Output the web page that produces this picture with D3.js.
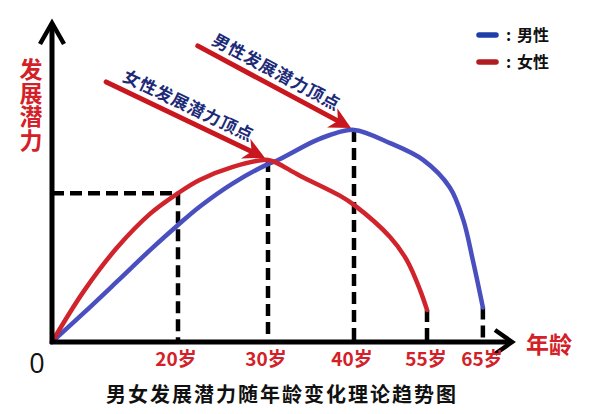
<!DOCTYPE html>
<html><head><meta charset="utf-8">
<script src="https://cdn.jsdelivr.net/npm/d3@7"></script>
<style>html,body{margin:0;padding:0;background:#fff;}svg{display:block;}</style>
</head><body>
<svg id="chart" width="600" height="414"></svg>
<script>
// ---- data ----
const tickAges = [20, 30, 40, 55, 65];
const tickLabels = ["20岁", "30岁", "40岁", "55岁", "65岁"];
const maleAges   = [0, 5, 10.3, 15.6, 20, 22.4, 26.1, 30, 31, 35.2, 37.2, 40, 47.3, 54, 58.9, 61.3, 63, 64.8];
const maleValues = [0, 9.6, 20.1, 30.7, 39, 45.1, 52.9, 59.3, 60.4, 66.7, 69, 70.7, 66.3, 60.7, 51.5, 40.7, 27.3, 11.5];
const femaleAges   = [0, 5, 10.3, 15.6, 20, 22.4, 26.1, 30, 31, 33.6, 38.4, 40, 47.3, 50.7, 53.4, 54.8];
const femaleValues = [0, 16.8, 31.4, 42.8, 49.6, 54, 58.4, 60.7, 59.7, 55.6, 48.7, 45.7, 35, 27.3, 17.3, 10.7];
const legendLabels = ["男性", "女性"];
const yAxisTitle = "发展潜力";
const xAxisTitle = "年龄";
const chartTitle = "男女发展潜力随年龄变化理论趋势图";
const annotations = [
  {text: "女性发展潜力顶点", startAge: 8.6, startValue: 86.7, series: "female", age: 30, t: 0.48},
  {text: "男性发展潜力顶点", startAge: 22.2, startValue: 98.7, series: "male", age: 40, t: 0.47}
];
const guides = [
  {age: 20, series: "female"}, {age: 30, series: "female"}, {age: 40, series: "male"},
  {age: 54.8, series: "female"}, {age: 64.8, series: "male"}
];

// ---- layout ----
const svg = d3.select("#chart");
const x0 = 52, y0 = 342;
const colors = {male: "#4a4fc0", female: "#d0232b"};
const legendColors = {male: "#1e3ea8", female: "#b01c1f"};
const font = "'Noto Sans CJK SC','Noto Sans',sans-serif";

const x = d3.scaleLinear().domain([0, 20, 30, 40, 55, 65])
  .range([x0, x0 + 126, x0 + 216, x0 + 302, x0 + 376, x0 + 432]);
const y = d3.scaleLinear().domain([0, 100]).range([y0, y0 - 300]);

const series = {
  male: maleAges.map((a, i) => [a, maleValues[i]]),
  female: femaleAges.map((a, i) => [a, femaleValues[i]])
};
function valueAt(name, age) {
  const s = series[name];
  let best = s[0];
  s.forEach(p => { if (Math.abs(p[0] - age) < Math.abs(best[0] - age)) best = p; });
  return best[1];
}

// dashed guides
const dashStyle = "12,6";
guides.forEach(g => {
  const v = valueAt(g.series, g.age);
  svg.append("line").attr("x1", x(g.age)).attr("x2", x(g.age))
    .attr("y1", y(v)).attr("y2", y(0))
    .attr("stroke", "#000").attr("stroke-width", 4.5).attr("stroke-dasharray", dashStyle);
});
{
  const v = valueAt("female", 20);
  svg.append("line").attr("x1", x(0)).attr("x2", x(20)).attr("y1", y(v)).attr("y2", y(v))
    .attr("stroke", "#000").attr("stroke-width", 4.5).attr("stroke-dasharray", dashStyle);
}

// curves
const line = d3.line().x(d => x(d[0])).y(d => y(d[1])).curve(d3.curveCatmullRom.alpha(0.5));
["male", "female"].forEach(n => {
  svg.append("path").attr("d", line(series[n])).attr("fill", "none")
    .attr("stroke", colors[n]).attr("stroke-width", 4.5)
    .attr("stroke-linecap", "round").attr("stroke-linejoin", "round");
});

// axes
svg.append("line").attr("x1", x0).attr("x2", x0).attr("y1", y0 + 2).attr("y2", 24)
  .attr("stroke", "#000").attr("stroke-width", 5);
svg.append("path").attr("d", `M${x0 - 12},44 L${x0},23 L${x0 + 12},44`)
  .attr("fill", "none").attr("stroke", "#000").attr("stroke-width", 4.5);
svg.append("line").attr("x1", x0 - 2).attr("x2", 511).attr("y1", y0).attr("y2", y0)
  .attr("stroke", "#000").attr("stroke-width", 5);
svg.append("path").attr("d", `M495,${y0 - 12} L512,${y0} L495,${y0 + 12}`)
  .attr("fill", "none").attr("stroke", "#000").attr("stroke-width", 4.5);

// tick labels
svg.selectAll(".tick").data(tickAges).enter().append("text")
  .attr("x", d => x(d) - 2).attr("y", 366).attr("text-anchor", "middle")
  .attr("font-family", font).attr("font-weight", "bold").attr("font-size", 19)
  .attr("fill", "#d42027").text((d, i) => tickLabels[i]);
svg.append("text").attr("x", 37).attr("y", 373).attr("text-anchor", "middle")
  .attr("font-family", "'Open Sans','DejaVu Sans',sans-serif").attr("font-size", 27).attr("fill", "#111").text("0");

// axis titles
svg.append("text").attr("x", 526).attr("y", 353)
  .attr("font-family", font).attr("font-weight", "bold").attr("font-size", 23)
  .attr("fill", "#d42027").text(xAxisTitle);
svg.append("text").attr("x", 31).attr("y", 58)
  .style("writing-mode", "vertical-rl").attr("letter-spacing", 0.5)
  .attr("font-family", font).attr("font-weight", "bold")
  .attr("font-size", 23).attr("fill", "#d42027").text(yAxisTitle);

// title
svg.append("text").attr("x", 282).attr("y", 402).attr("text-anchor", "middle")
  .attr("font-family", font).attr("font-weight", "bold").attr("font-size", 20)
  .attr("letter-spacing", 2).attr("fill", "#111").text(chartTitle);

// annotations
annotations.forEach(a => {
  const sx = x(a.startAge), sy = y(a.startValue);
  const ex = x(a.age) - 3, ey = y(valueAt(a.series, a.age)) - 2;
  const th = Math.atan2(ey - sy, ex - sx);
  const L = 24, half = 27 * Math.PI / 180;
  const nx = ex - 0.62 * L * Math.cos(th), ny = ey - 0.62 * L * Math.sin(th);
  svg.append("line").attr("x1", sx).attr("y1", sy).attr("x2", nx).attr("y2", ny)
    .attr("stroke", "#c8171e").attr("stroke-width", 5).attr("stroke-linecap", "round");
  const p1 = [ex - L * Math.cos(th - half), ey - L * Math.sin(th - half)];
  const p2 = [ex - L * Math.cos(th + half), ey - L * Math.sin(th + half)];
  svg.append("path").attr("d", `M${ex},${ey} L${p1[0]},${p1[1]} L${nx},${ny} L${p2[0]},${p2[1]} Z`)
    .attr("fill", "#c8171e");
  const len = Math.hypot(ex - sx, ey - sy);
  const cx = sx + a.t * len * Math.cos(th) + 14 * Math.sin(th);
  const cy = sy + a.t * len * Math.sin(th) - 14 * Math.cos(th);
  svg.append("text").attr("transform", `translate(${cx},${cy}) rotate(${th * 180 / Math.PI})`)
    .attr("text-anchor", "middle").attr("dy", "0.36em")
    .attr("font-family", font).attr("font-weight", "bold").attr("font-size", 17)
    .attr("letter-spacing", 0.8).attr("fill", "#1d2a78").text(a.text);
});

// legend
["male", "female"].forEach((n, i) => {
  const ly = 35 + i * 27;
  svg.append("line").attr("x1", 479).attr("x2", 496).attr("y1", ly).attr("y2", ly)
    .attr("stroke", legendColors[n]).attr("stroke-width", 5.5).attr("stroke-linecap", "round");
  svg.append("text").attr("x", 506).attr("y", ly).attr("dy", "0.36em")
    .attr("font-family", font).attr("font-weight", "bold").attr("font-size", 16)
    .attr("fill", "#111").text(":");
  svg.append("text").attr("x", 517).attr("y", ly).attr("dy", "0.36em")
    .attr("font-family", font).attr("font-weight", "bold").attr("font-size", 16)
    .attr("fill", "#111").text(legendLabels[i]);
});
</script>
</body></html>
